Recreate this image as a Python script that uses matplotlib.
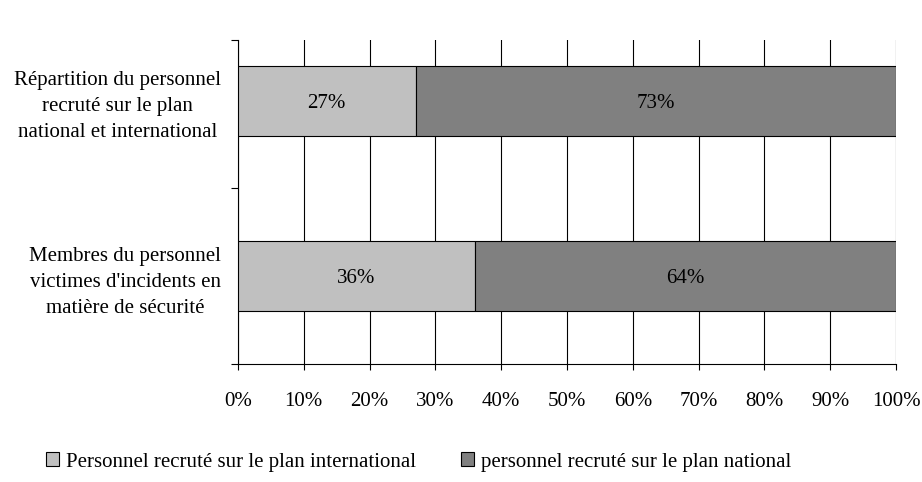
import numpy as np
import matplotlib.pyplot as plt

plt.rcParams['font.family'] = ['Liberation Serif', 'DejaVu Serif']
FS = 15

categories = ["Membres du personnel\nvictimes d'incidents en\nmatière de sécurité",
              "Répartition du personnel\nrecruté sur le plan\nnational et international"]
international = [36, 27]
national = [64, 73]
series_names = ["Personnel recruté sur le plan international",
                "personnel recruté sur le plan national"]

fig = plt.figure(figsize=(9.22, 4.82), dpi=100)
ax = fig.add_axes([0.2581, 0.2448, 0.7137, 0.6722])

y = np.arange(len(categories))
h = 0.4
b1 = ax.barh(y, international, height=h, color='#c0c0c0', edgecolor='black', linewidth=0.8,
             label=series_names[0], zorder=3)
b2 = ax.barh(y, national, left=international, height=h, color='#808080', edgecolor='black',
             linewidth=0.8, label=series_names[1], zorder=3)

for i in range(len(y)):
    ax.text(international[i] / 2, y[i], f"{international[i]}%", ha='center',
            va='center_baseline', fontsize=FS, zorder=4)
    ax.text(international[i] + national[i] / 2, y[i], f"{national[i]}%", ha='center',
            va='center_baseline', fontsize=FS, zorder=4)

ytop = 1.346
ax.set_xlim(0, 100)
ax.set_ylim(-0.5, ytop)
ax.set_xticks(np.arange(0, 101, 10))
ax.set_xticklabels([f"{v}%" for v in range(0, 101, 10)], fontsize=FS)
ax.xaxis.grid(True, color='black', linewidth=0.8, zorder=0)
ax.tick_params(axis='x', length=4, pad=16, width=0.8)

ax.set_yticks(y)
ax.set_yticklabels(categories, fontsize=FS, ma='center', linespacing=1.5)
ax.tick_params(axis='y', which='major', length=0, pad=12)
ax.set_yticks([-0.5, 0.5, ytop], minor=True)
ax.tick_params(axis='y', which='minor', length=5, width=0.8)

for s in ['top', 'right']:
    ax.spines[s].set_visible(False)
for s in ['left', 'bottom']:
    ax.spines[s].set_linewidth(0.8)

fig.legend(handles=[b1, b2], loc='center', bbox_to_anchor=(0.454, 0.0415), ncol=2,
           frameon=False, fontsize=FS, handlelength=0.63, handleheight=0.63,
           handletextpad=0.33, columnspacing=2.15, borderaxespad=0)

fig.savefig('out.png', dpi=100)
